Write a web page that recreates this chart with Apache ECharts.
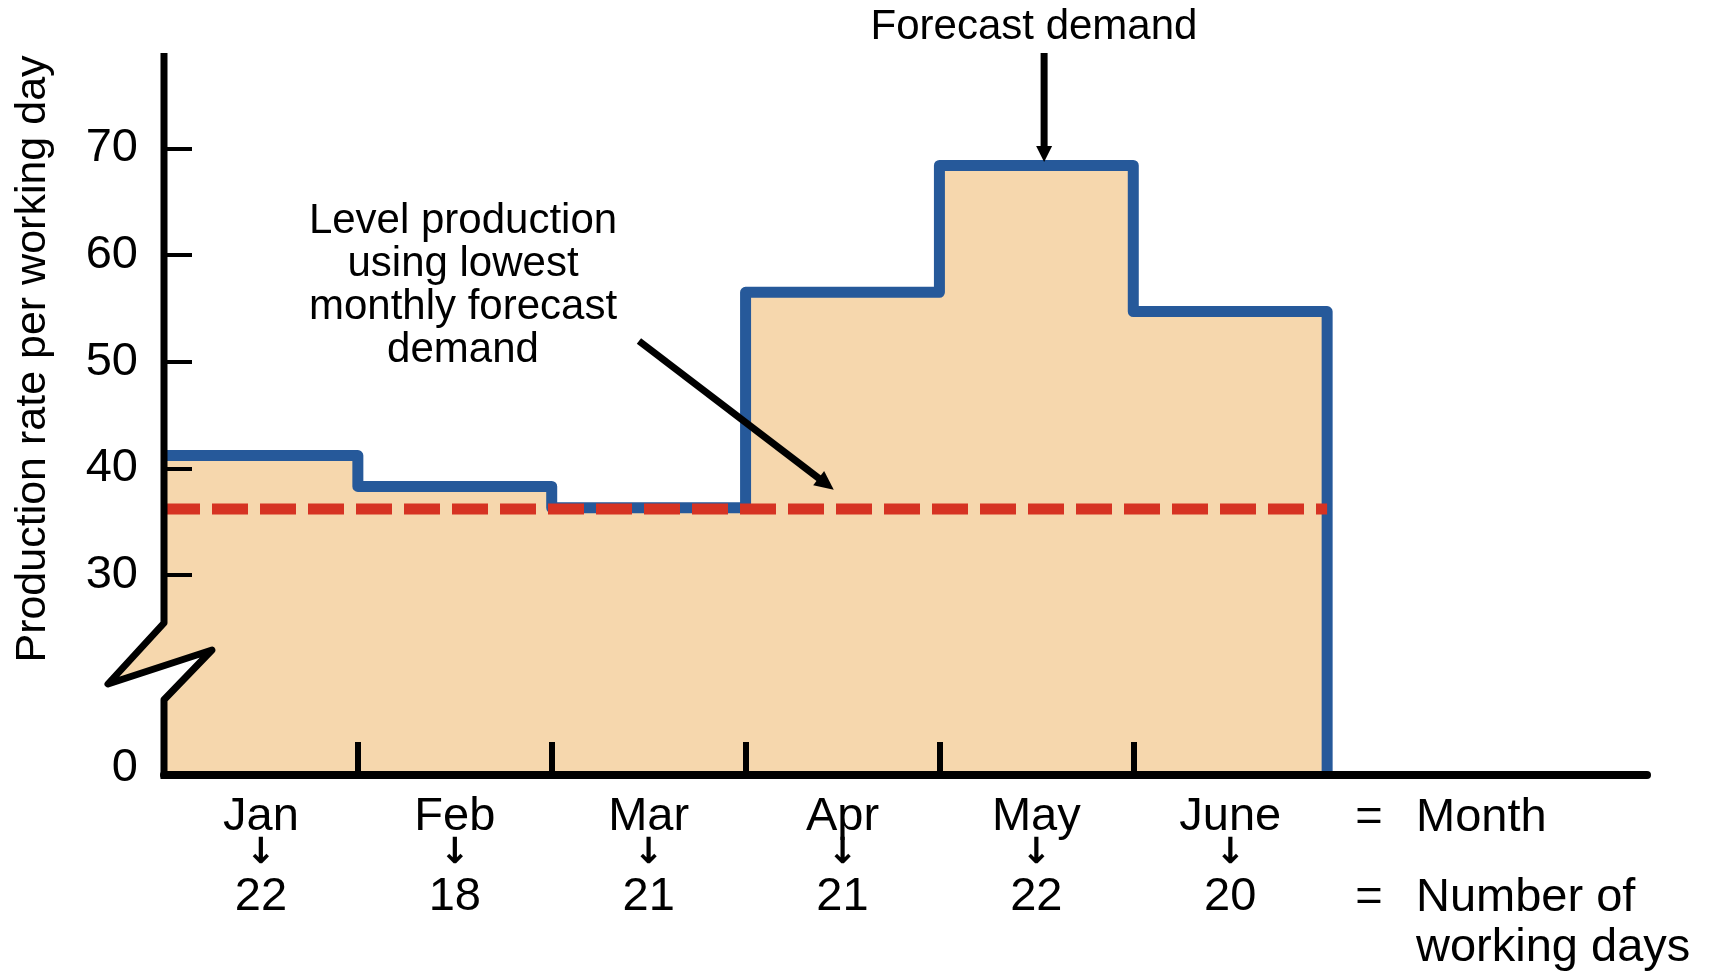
<!DOCTYPE html>
<html><head><meta charset="utf-8">
<script src="https://cdn.jsdelivr.net/npm/echarts@6/dist/echarts.min.js"></script>
<style>html,body{margin:0;padding:0;background:#fff}#c{width:1713px;height:974px}</style>
</head><body><div id="c"></div>
<script>
// ---- data ----
const months = ['Jan', 'Feb', 'Mar', 'Apr', 'May', 'June'];
const workingDays = [22, 18, 21, 21, 22, 20];
const forecastDemand = [41.2, 38.3, 36.3, 56.5, 68.4, 54.7];
const levelProduction = 36.2;
const yTickValues = [30, 40, 50, 60, 70];
const yZeroLabel = '0';

// ---- broken axis layout (display units) ----
const Y_ZERO = 11.25;   // where "0" sits on the broken axis
const Y_MAX = 78.94;
const X_MAX = 7.65;
const FONT = '"Liberation Sans", Arial, Helvetica, sans-serif';
const BLUE = '#26599A', FILL = '#F6D7AD', RED = '#D63323';

const n = months.length;
const demandData = forecastDemand.map((v, i) => [i, v]);
demandData.push([n, forecastDemand[n - 1]]);
demandData.push([n, Y_ZERO]);
const levelData = [[0, levelProduction], [n, levelProduction]];

const chart = echarts.init(document.getElementById('c'), null, {renderer: 'canvas'});
const option = {
  animation: false,
  backgroundColor: '#fff',
  textStyle: {fontFamily: FONT, color: '#000'},
  grid: {left: 164, right: 66, top: 53, bottom: 199, containLabel: false},
  xAxis: {
    type: 'value', min: 0, max: X_MAX, z: 5,
    splitLine: {show: false},
    axisLine: {show: true, lineStyle: {color: '#000', width: 8}},
    axisTick: {show: true, inside: true, length: 33, lineStyle: {color: '#000', width: 6},
      customValues: months.slice(1).map((m, i) => i + 1)},
    axisLabel: {
      customValues: months.map((m, i) => i + 0.5),
      margin: 17,
      color: '#000',
      formatter: function (v) {
        const i = Math.round(v - 0.5);
        return '{m|' + months[i] + '}\n{a|\u2193}\n{n|' + workingDays[i] + '}';
      },
      rich: {
        m: {fontSize: 47, lineHeight: 50, fontFamily: FONT, color: '#000'},
        a: {fontSize: 36, lineHeight: 24, fontWeight: 'bold', fontFamily: '"DejaVu Sans", sans-serif', color: '#000'},
        n: {fontSize: 47, lineHeight: 62, fontFamily: FONT, color: '#000'}
      }
    }
  },
  yAxis: {
    type: 'value', min: Y_ZERO, max: Y_MAX, z: 5,
    splitLine: {show: false},
    axisLine: {show: false},
    axisTick: {show: true, inside: true, length: 28, lineStyle: {color: '#000', width: 4},
      customValues: [Y_ZERO].concat(yTickValues)},
    axisLabel: {
      customValues: [Y_ZERO].concat(yTickValues),
      margin: 26,
      color: '#000',
      formatter: function (v) {
        if (Math.abs(v - Y_ZERO) < 1e-6) return '{z|' + yZeroLabel + '}';
        return '{t|' + v + '}';
      },
      rich: {
        t: {fontSize: 47, fontFamily: FONT, color: '#000'},
        z: {fontSize: 47, fontFamily: FONT, color: '#000', padding: [0, 0, 14, 0]}
      }
    }
  },
  series: [
    {
      type: 'line', step: 'end', data: demandData, symbol: 'none', z: 2,
      lineStyle: {color: BLUE, width: 11, join: 'round', cap: 'butt'},
      areaStyle: {color: FILL, opacity: 1, origin: 'start'},
      silent: true
    },
    {
      type: 'line', data: levelData, symbol: 'none', z: 3,
      lineStyle: {color: RED, width: 11, type: [36, 12], cap: 'butt'},
      silent: true
    }
  ]
};
chart.setOption(option);

// ---- decorations: broken y axis, arrows, annotations ----
function px(x, y) { return chart.convertToPixel({gridIndex: 0}, [x, y]); }
function arrow(p0, p1, w, headLen, headHalf) {
  const dx = p1[0] - p0[0], dy = p1[1] - p0[1];
  const L = Math.sqrt(dx * dx + dy * dy), ux = dx / L, uy = dy / L;
  const bx = p1[0] - ux * headLen, by = p1[1] - uy * headLen;
  const qx = -uy, qy = ux;
  return [
    {type: 'line', z: 120, shape: {x1: p0[0], y1: p0[1], x2: bx + ux * 2, y2: by + uy * 2},
      style: {stroke: '#000', lineWidth: w}},
    {type: 'polygon', z: 120, shape: {points: [[p1[0], p1[1]], [bx + qx * headHalf, by + qy * headHalf], [bx - qx * headHalf, by - qy * headHalf]]},
      style: {fill: '#000'}}
  ];
}

const pOrigin = px(0, Y_ZERO);
const pTop = px(0, Y_MAX);
const ax = pOrigin[0];
const breakTop = px(0, 25.5)[1];
const breakLeft = [ax - 56, breakTop + 61];
const breakRight = [ax + 48, breakTop + 27];
const breakBottom = px(0, 18.3)[1];
const cross = breakLeft[1] + (breakRight[1] - breakLeft[1]) * (ax - breakLeft[0]) / (breakRight[0] - breakLeft[0]);

const graphics = [
  {type: 'polygon', z: 100, shape: {points: [[ax, breakTop], breakLeft, [ax, cross]]}, style: {fill: FILL}},
  {type: 'polygon', z: 100, shape: {points: [[ax, cross], breakRight, [ax, breakBottom]]}, style: {fill: '#fff'}},
  {type: 'polyline', z: 110, shape: {points: [[ax, pTop[1]], [ax, breakTop], breakLeft, breakRight, [ax, breakBottom], [ax, pOrigin[1] + 4]]},
    style: {stroke: '#000', lineWidth: 7, lineJoin: 'round', lineCap: 'butt', fill: null}},
  {type: 'text', z: 120, x: 33, y: 359, rotation: Math.PI / 2,
    style: {text: 'Production rate per working day', font: '43px ' + FONT, fill: '#000', align: 'center', verticalAlign: 'middle'}},
  {type: 'text', z: 120, x: 1034, y: 27,
    style: {text: 'Forecast demand', font: '42px ' + FONT, fill: '#000', align: 'center', verticalAlign: 'middle'}},
  {type: 'text', z: 120, x: 463, y: 286,
    style: {text: 'Level production\nusing lowest\nmonthly forecast\ndemand', font: '42px ' + FONT, lineHeight: 43, fill: '#000', align: 'center', verticalAlign: 'middle'}},
  {type: 'text', z: 120, x: 1369, y: 818,
    style: {text: '=', font: '47px ' + FONT, fill: '#000', align: 'center', verticalAlign: 'middle'}},
  {type: 'text', z: 120, x: 1416, y: 818,
    style: {text: 'Month', font: '47px ' + FONT, fill: '#000', align: 'left', verticalAlign: 'middle'}},
  {type: 'text', z: 120, x: 1369, y: 898,
    style: {text: '=', font: '47px ' + FONT, fill: '#000', align: 'center', verticalAlign: 'middle'}},
  {type: 'text', z: 120, x: 1416, y: 923,
    style: {text: 'Number of\nworking days', font: '47px ' + FONT, lineHeight: 50, fill: '#000', align: 'left', verticalAlign: 'middle'}}
];
arrow(px(4.54, Y_MAX), px(4.54, 68.72), 7, 16, 8).forEach(g => graphics.push(g));
arrow(px(2.45, 51.94), px(3.455, 38.0), 7, 19, 9).forEach(g => graphics.push(g));

chart.setOption({graphic: {elements: graphics}});
</script>
</body></html>
